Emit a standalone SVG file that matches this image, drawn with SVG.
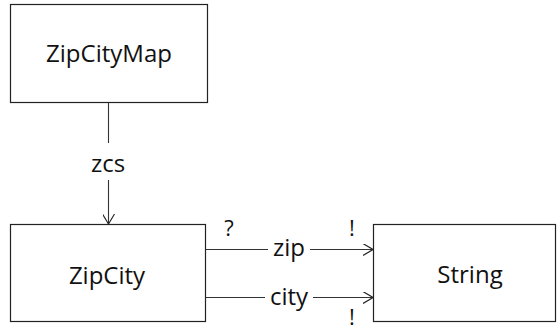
<svg xmlns="http://www.w3.org/2000/svg" width="559" height="327" viewBox="0 0 559 327">
<style>
.box{fill:#fff;stroke:#222;stroke-width:1.2}
.lbl{font-family:"Open Sans","Noto Sans",sans-serif;font-size:24px;fill:#111;text-anchor:middle}
.ln{stroke:#333;stroke-width:1.1;fill:none}
</style>
<defs>
<marker id="arr" viewBox="0 0 10 12" refX="10" refY="6" markerWidth="10" markerHeight="12" markerUnits="userSpaceOnUse" orient="auto">
<path d="M0,0 L10,6 L0,12" fill="none" stroke="#222" stroke-width="1.1"/>
</marker>
</defs>
<g id="ZipCityMap"><rect class="box" x="10.5" y="4.5" width="197" height="98"/><text class="lbl" x="109" y="62">ZipCityMap</text></g>
<g id="ZipCity"><rect class="box" x="10.5" y="224.5" width="195" height="97"/><text class="lbl" x="107" y="284">ZipCity</text></g>
<g id="String"><rect class="box" x="373.5" y="224.5" width="182" height="97"/><text class="lbl" x="470" y="283">String</text></g>
<g id="connectors">
<line class="ln" x1="108.5" y1="103" x2="108.5" y2="143"/>
<text class="lbl" x="108" y="172">zcs</text>
<line class="ln" x1="108.5" y1="180" x2="108.5" y2="224" marker-end="url(#arr)"/>
<line class="ln" x1="206" y1="249.5" x2="268" y2="249.5"/>
<text class="lbl" x="289" y="256">zip</text>
<line class="ln" x1="310" y1="249.5" x2="373" y2="249.5" marker-end="url(#arr)"/>
<text class="lbl" x="229" y="236" style="font-size:22px">?</text>
<text class="lbl" x="352" y="236" style="font-size:22px;fill:#111">!</text>
<line class="ln" x1="206" y1="297.5" x2="265" y2="297.5"/>
<text class="lbl" x="289" y="305">city</text>
<line class="ln" x1="313" y1="297.5" x2="373" y2="297.5" marker-end="url(#arr)"/>
<text class="lbl" x="352" y="325" style="font-size:22px;fill:#111">!</text>
</g>
</svg>
